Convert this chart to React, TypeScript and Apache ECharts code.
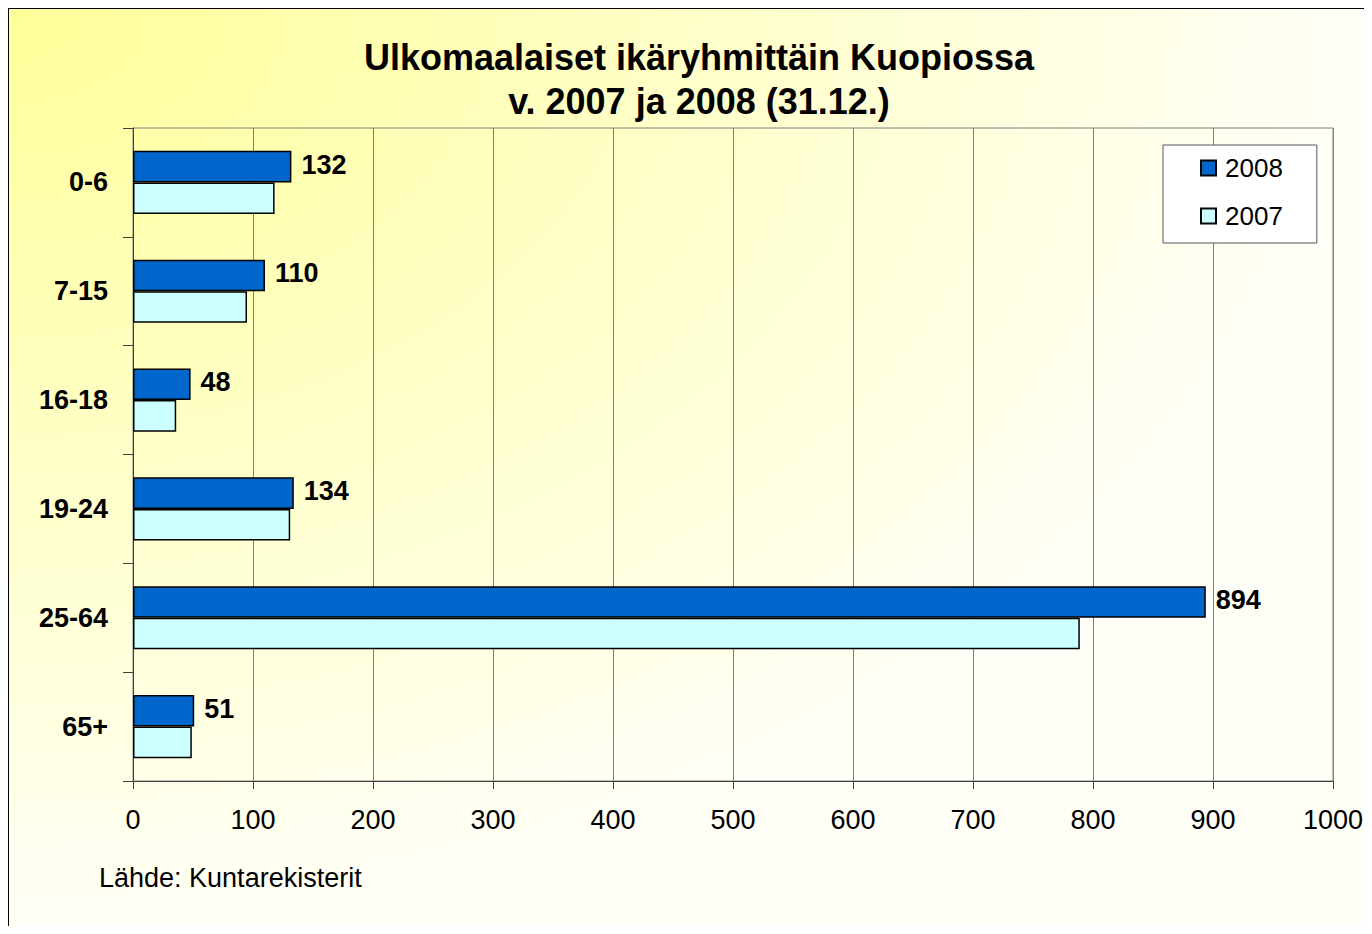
import React, { useEffect, useRef } from "react";
import * as echarts from "echarts";

const categories = ["0-6", "7-15", "16-18", "19-24", "25-64", "65+"];
const values2008 = [132, 110, 48, 134, 894, 51];
const values2007 = [118, 95, 36, 131, 789, 49];
const xTicks = { min: 0, max: 1000, interval: 100 };
const titleLines = ["Ulkomaalaiset ikäryhmittäin Kuopiossa", "v. 2007 ja 2008 (31.12.)"];
const sourceText = "Lähde: Kuntarekisterit";

const FONT = "'Liberation Sans', Arial, sans-serif";

export default function App() {
  const ref = useRef<HTMLDivElement>(null);
  useEffect(() => {
    if (!ref.current) return;
    const chart = echarts.init(ref.current, undefined, { renderer: "svg" });
    chart.setOption({
      animation: false,
      backgroundColor: "transparent",
      textStyle: { fontFamily: FONT },
      grid: {
        left: 125,
        top: 120,
        width: 1200,
        height: 653,
        show: true,
        borderColor: "#808080",
        borderWidth: 1,
        backgroundColor: "transparent",
        outerBoundsMode: "none",
        containLabel: false,
      },
      legend: {
        orient: "vertical",
        left: 1155,
        top: 137,
        data: ["2008", "2007"],
        backgroundColor: "#ffffff",
        borderColor: "#555555",
        borderWidth: 1,
        padding: [10, 34, 14, 37],
        itemGap: 22,
        itemWidth: 15,
        itemHeight: 15,
        icon: "rect",
        textStyle: { fontSize: 26, color: "#000", fontFamily: FONT, padding: [0, 0, 0, 4] },
      },
      xAxis: {
        type: "value",
        min: xTicks.min,
        max: xTicks.max,
        interval: xTicks.interval,
        axisLine: { show: true, lineStyle: { color: "#404040", width: 1 } },
        axisTick: { show: true, length: 8, lineStyle: { color: "#404040" } },
        axisLabel: {
          fontSize: 27,
          color: "#000",
          margin: 25,
          fontFamily: FONT,
          formatter: (v: number) => String(v),
        },
        splitLine: { show: true, lineStyle: { color: "#808080", width: 1 } },
      },
      yAxis: {
        type: "category",
        data: categories,
        inverse: true,
        axisLine: { show: true, lineStyle: { color: "#404040", width: 1 } },
        axisTick: { show: true, length: 10, lineStyle: { color: "#404040" } },
        axisLabel: { fontSize: 27, fontWeight: "bold", color: "#000", margin: 25, fontFamily: FONT },
        splitLine: { show: false },
      },
      series: [
        {
          name: "2008",
          type: "bar",
          data: values2008,
          barGap: "0%",
          barCategoryGap: "42%",
          itemStyle: { color: "#0066CC", borderColor: "#000", borderWidth: 1.5 },
          label: {
            show: true,
            position: "right",
            distance: 10,
            offset: [0, -2],
            fontSize: 27,
            fontWeight: "bold",
            color: "#000",
            fontFamily: FONT,
          },
        },
        {
          name: "2007",
          type: "bar",
          data: values2007,
          barGap: "0%",
          barCategoryGap: "42%",
          itemStyle: { color: "#CCFFFF", borderColor: "#000", borderWidth: 1.5 },
        },
      ],
      graphic: [
        {
          type: "text",
          x: 691,
          y: 49,
          style: {
            text: titleLines[0],
            fontSize: 36,
            fontWeight: "bold",
            fontFamily: FONT,
            fill: "#000",
            align: "center",
            verticalAlign: "middle",
          },
        },
        {
          type: "text",
          x: 691,
          y: 93,
          style: {
            text: titleLines[1],
            fontSize: 36,
            fontWeight: "bold",
            fontFamily: FONT,
            fill: "#000",
            align: "center",
            verticalAlign: "middle",
          },
        },
        {
          type: "text",
          x: 91,
          y: 870,
          style: {
            text: sourceText,
            fontSize: 27,
            fontFamily: FONT,
            fill: "#000",
            align: "left",
            verticalAlign: "middle",
          },
        },
        {
          type: "line",
          shape: { x1: 0.5, y1: 0, x2: 0.5, y2: 918 },
          style: { stroke: "#000", lineWidth: 1 },
        },
        {
          type: "line",
          shape: { x1: 0, y1: 0.5, x2: 1356, y2: 0.5 },
          style: { stroke: "#000", lineWidth: 1 },
        },
      ],
    });
    return () => chart.dispose();
  }, []);
  return (
    <div
      ref={ref}
      style={{
        width: 1356,
        height: 918,
        background: "radial-gradient(ellipse 1364px 926px at 0 0, #FFFF99 0%, #FFFFF8 100%)",
      }}
    />
  );
}
